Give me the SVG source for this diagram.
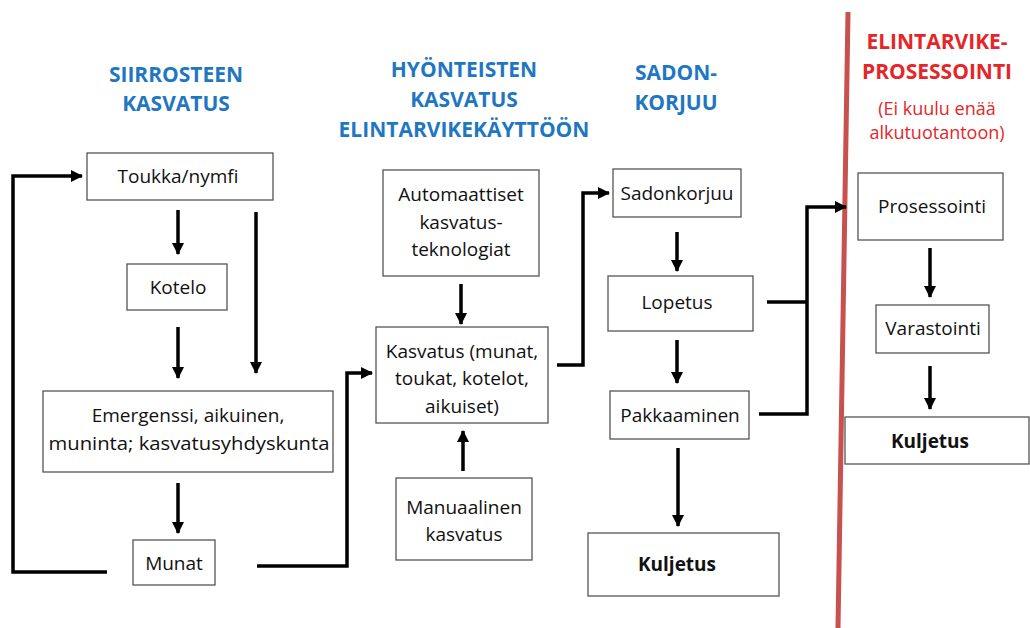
<svg xmlns="http://www.w3.org/2000/svg" width="1030" height="628" viewBox="0 0 1030 628">
<defs>
<marker id="ah" markerUnits="userSpaceOnUse" markerWidth="12" markerHeight="12" viewBox="0 0 12 12" refX="11" refY="6" orient="auto">
<path d="M0,0 L12,6 L0,12 Z" fill="#000"/>
</marker>
</defs>
<style>
.box{fill:#fff;stroke:#555;stroke-width:1.3}
.t{font-family:"Open Sans","Liberation Sans",sans-serif;font-size:19px;fill:#111;text-anchor:middle}
.b{font-weight:bold}
.h{font-family:"Open Sans","Liberation Sans",sans-serif;font-size:21px;font-weight:bold;fill:#1f77c2;text-anchor:middle}
.r{font-family:"Open Sans","Liberation Sans",sans-serif;font-size:21px;font-weight:bold;fill:#e52628;text-anchor:middle}
.rs{font-family:"Open Sans","Liberation Sans",sans-serif;font-size:18px;fill:#e52628;text-anchor:middle}
.c{fill:none;stroke:#000;stroke-width:3.5}
.a{marker-end:url(#ah)}
</style>
<rect width="1030" height="628" fill="#fff"/>
<line x1="848" y1="12" x2="838" y2="628" stroke="#c8504d" stroke-width="5"/>
<g id="headings">
<text class="h" x="176" y="82">SIIRROSTEEN</text>
<text class="h" x="176" y="111">KASVATUS</text>
<text class="h" x="464" y="77">HYÖNTEISTEN</text>
<text class="h" x="464" y="107">KASVATUS</text>
<text class="h" x="464" y="137">ELINTARVIKEKÄYTTÖÖN</text>
<text class="h" x="676" y="80">SADON-</text>
<text class="h" x="676" y="110">KORJUU</text>
<text class="r" x="937" y="49">ELINTARVIKE-</text>
<text class="r" x="937" y="79">PROSESSOINTI</text>
<text class="rs" x="937" y="115">(Ei kuulu enää</text>
<text class="rs" x="937" y="139">alkutuotantoon)</text>
</g>
<g id="connectors">
<line class="c a" x1="178" y1="210" x2="178" y2="254"/>
<line class="c a" x1="256" y1="212" x2="256" y2="373"/>
<line class="c a" x1="178" y1="327" x2="178" y2="378"/>
<line class="c a" x1="178" y1="483" x2="178" y2="533"/>
<polyline class="c a" points="107,572 13,572 13,176 82,176"/>
<polyline class="c a" points="257,566 347,566 347,373 372,373"/>
<line class="c a" x1="461" y1="284" x2="461" y2="324"/>
<line class="c a" x1="463" y1="471" x2="463" y2="431"/>
<polyline class="c a" points="557,365 583,365 583,193 609,193"/>
<line class="c a" x1="677" y1="232" x2="677" y2="271"/>
<line class="c a" x1="677" y1="340" x2="677" y2="383"/>
<line class="c a" x1="678" y1="448" x2="678" y2="526"/>
<polyline class="c" points="767,302 807,302"/>
<polyline class="c a" points="759,414 807,414 807,207 846,207"/>
<line class="c a" x1="930" y1="248" x2="930" y2="297"/>
<line class="c a" x1="930" y1="366" x2="930" y2="409"/>
</g>
<g id="n-toukka"><rect class="box" x="87" y="153" width="186" height="47"/><text class="t" x="178" y="183">Toukka/nymfi</text></g>
<g id="n-kotelo"><rect class="box" x="127" y="264" width="100" height="46"/><text class="t" x="178" y="294">Kotelo</text></g>
<g id="n-emergenssi"><rect class="box" x="43" y="391" width="290" height="81"/><text class="t" x="188" y="422">Emergenssi, aikuinen,</text><text class="t" x="189" y="450" textLength="281" lengthAdjust="spacingAndGlyphs">muninta; kasvatusyhdyskunta</text></g>
<g id="n-munat"><rect class="box" x="133" y="540" width="82" height="45"/><text class="t" x="174" y="570">Munat</text></g>
<g id="n-automaattiset"><rect class="box" x="383" y="170" width="156" height="106"/><text class="t" x="461" y="201">Automaattiset</text><text class="t" x="461" y="229">kasvatus-</text><text class="t" x="461" y="256">teknologiat</text></g>
<g id="n-kasvatus"><rect class="box" x="376" y="327" width="172" height="96"/><text class="t" x="462" y="358">Kasvatus (munat,</text><text class="t" x="462" y="385">toukat, kotelot,</text><text class="t" x="462" y="413">aikuiset)</text></g>
<g id="n-manuaalinen"><rect class="box" x="396" y="478" width="136" height="82"/><text class="t" x="464" y="514">Manuaalinen</text><text class="t" x="464" y="541">kasvatus</text></g>
<g id="n-sadonkorjuu"><rect class="box" x="613" y="169" width="128" height="48"/><text class="t" x="677" y="200">Sadonkorjuu</text></g>
<g id="n-lopetus"><rect class="box" x="608" y="276" width="145" height="55"/><text class="t" x="677" y="309">Lopetus</text></g>
<g id="n-pakkaaminen"><rect class="box" x="610" y="391" width="139" height="48"/><text class="t" x="680" y="422">Pakkaaminen</text></g>
<g id="n-kuljetus1"><rect class="box" x="588" y="533" width="191" height="63"/><text class="t b" x="677" y="571">Kuljetus</text></g>
<g id="n-prosessointi"><rect class="box" x="858" y="173" width="145" height="67"/><text class="t" x="932" y="213">Prosessointi</text></g>
<g id="n-varastointi"><rect class="box" x="876" y="305" width="113" height="48"/><text class="t" x="933" y="335">Varastointi</text></g>
<g id="n-kuljetus2"><rect class="box" x="845" y="417" width="184" height="47"/><text class="t b" x="930" y="448">Kuljetus</text></g>
</svg>
